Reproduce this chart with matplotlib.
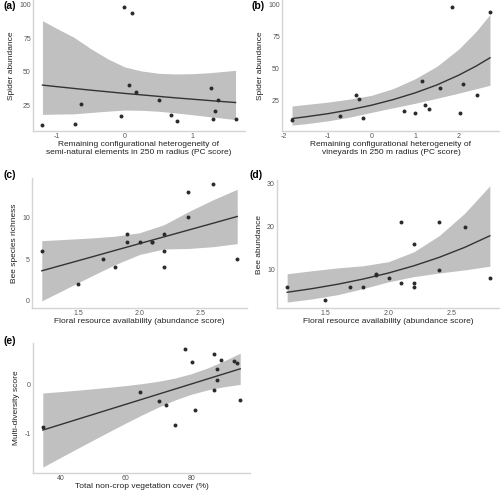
import matplotlib
matplotlib.use("Agg")
import matplotlib.pyplot as plt

plt.rcParams['font.family'] = ['Liberation Sans', 'DejaVu Sans']

# ---------------- data ----------------
# (a) spider abundance vs configurational heterogeneity of semi-natural elements
a_x = [-1.22, -0.745, -0.65, -0.06, -0.015, 0.10, 0.06, 0.17, 0.50, 0.69, 0.77, 1.27, 1.38, 1.34, 1.31, 1.64]
a_y = [10, 11, 26, 17, 98, 94, 40, 35, 29, 18, 13, 38, 29, 21, 15, 15]
a_fx = [-1.22, -1.0, -0.75, -0.5, -0.25, 0.0, 0.25, 0.5, 0.75, 1.0, 1.25, 1.64]
a_fit = [40.0, 38.8, 37.5, 36.2, 35.0, 33.8, 32.7, 31.6, 30.5, 29.5, 28.5, 27.0]
a_lo = [18.2, 18.4, 18.6, 19.6, 20.6, 21.4, 21.2, 20.5, 19.3, 17.9, 16.5, 14.3]
a_hi = [88.0, 82.0, 75.5, 67.0, 59.5, 53.5, 50.5, 48.8, 48.3, 48.5, 49.2, 51.0]

# (b) spider abundance vs configurational heterogeneity of vineyards
b_x = [-1.82, -0.72, -0.36, -0.28, -0.20, 0.75, 1.0, 1.16, 1.22, 1.32, 1.57, 1.84, 2.11, 2.03, 2.42, 2.72]
b_y = [10, 13, 29, 26, 11, 17, 15, 40, 21, 18, 35, 98, 38, 15, 29, 94]
b_fx = [-1.82, -1.5, -1.0, -0.5, 0.0, 0.5, 1.0, 1.5, 2.0, 2.4, 2.72]
b_fit = [10.8, 12.2, 14.6, 17.6, 21.2, 25.6, 30.8, 37.0, 44.6, 51.7, 58.2]
b_lo = [5.7, 6.8, 9.0, 11.9, 15.6, 19.2, 22.7, 26.6, 30.6, 34.0, 36.8]
b_hi = [20.6, 21.8, 23.6, 26.0, 28.9, 34.2, 41.8, 51.5, 64.9, 78.7, 92.0]

# (c) bee species richness vs floral resource availability
c_x = [1.2, 1.5, 1.7, 1.8, 1.9, 1.9, 2.0, 2.1, 2.1, 2.2, 2.2, 2.2, 2.4, 2.4, 2.6, 2.8]
c_y = [6, 2, 5, 4, 8, 7, 7, 7, 7.1, 8, 6, 4, 13, 10, 14, 5]
c_fx = [1.2, 1.4, 1.6, 1.8, 2.0, 2.2, 2.4, 2.6, 2.8]
c_fit = [3.6, 4.41, 5.22, 6.04, 6.85, 7.66, 8.47, 9.28, 10.1]
c_lo = [0.0, 1.46, 2.92, 4.34, 5.55, 6.21, 6.27, 6.48, 6.85]
c_hi = [7.2, 7.36, 7.52, 7.74, 8.15, 9.11, 10.67, 12.08, 13.35]

# (d) bee abundance vs floral resource availability
d_x = [1.2, 1.5, 1.7, 1.8, 1.9, 1.9, 2.0, 2.1, 2.1, 2.2, 2.2, 2.2, 2.4, 2.4, 2.6, 2.8]
d_y = [6, 3, 6, 6, 9, 8.85, 8, 21, 7, 16, 7, 6, 21, 10, 20, 8]
d_fx = [1.2, 1.4, 1.6, 1.8, 2.0, 2.2, 2.4, 2.6, 2.8]
d_fit = [4.8, 5.66, 6.67, 7.87, 9.27, 10.94, 12.9, 15.2, 17.9]
d_lo = [2.53, 3.27, 4.25, 5.66, 7.22, 8.43, 9.27, 9.99, 10.85]
d_hi = [9.1, 9.81, 10.46, 10.95, 11.9, 14.19, 17.94, 23.1, 29.5]

# (e) multi-diversity score vs total non-crop vegetation cover
e_x = [34.5, 64.3, 70.1, 72.2, 75.1, 78.1, 80.1, 81.1, 87.0, 87.0, 88.0, 88.0, 89.0, 93.0, 94.0, 95.0]
e_y = [-0.88, -0.16, -0.34, -0.43, -0.84, 0.73, 0.46, -0.52, 0.63, -0.12, 0.31, 0.09, 0.50, 0.49, 0.44, -0.32]
e_fx = [34.5, 40, 45, 50, 55, 60, 65, 70, 75, 80, 85, 90, 95]
e_fit = [-0.938, -0.824, -0.720, -0.616, -0.512, -0.408, -0.304, -0.200, -0.096, 0.008, 0.112, 0.216, 0.320]
e_lo = [-1.699, -1.500, -1.320, -1.142, -0.966, -0.792, -0.624, -0.465, -0.321, -0.203, -0.113, -0.049, 0.000]
e_hi = [-0.177, -0.148, -0.120, -0.090, -0.058, -0.024, 0.016, 0.065, 0.129, 0.219, 0.337, 0.481, 0.640]

panels = [
    dict(tag='(a)', x=a_x, y=a_y, fx=a_fx, fit=a_fit, lo=a_lo, hi=a_hi,
         xlim=(-1.36, 1.78), ylim=(5.8, 103.4), xt=[-1, 0, 1], xtl=['-1', '0', '1'],
         yt=[25, 50, 75, 100], ytl=['25', '50', '75', '100'],
         xlab='Remaining configurational heterogeneity of\nsemi-natural elements in 250 m radius (PC score)',
         ylab='Spider abundance', box=(33, 0, 245, 131), tagpos=(3, 1)),
    dict(tag='(b)', x=b_x, y=b_y, fx=b_fx, fit=b_fit, lo=b_lo, hi=b_hi,
         xlim=(-2.05, 2.95), ylim=(1.1, 103.3), xt=[-2, -1, 0, 1, 2], xtl=['-2', '-1', '0', '1', '2'],
         yt=[25, 50, 75, 100], ytl=['25', '50', '75', '100'],
         xlab='Remaining configurational heterogeneity of\nvineyards in 250 m radius (PC score)',
         ylab='Spider abundance', box=(282, 0, 500, 131), tagpos=(252, 1)),
    dict(tag='(c)', x=c_x, y=c_y, fx=c_fx, fit=c_fit, lo=c_lo, hi=c_hi,
         xlim=(1.12, 2.88), ylim=(-0.85, 14.7), xt=[1.5, 2.0, 2.5], xtl=['1.5', '2.0', '2.5'],
         yt=[0, 5, 10], ytl=['0', '5', '10'],
         xlab='Floral resource availability (abundance score)',
         ylab='Bee species richness', box=(32, 178, 247, 308), tagpos=(3, 170)),
    dict(tag='(d)', x=d_x, y=d_y, fx=d_fx, fit=d_fit, lo=d_lo, hi=d_hi,
         xlim=(1.12, 2.88), ylim=(1.15, 30.85), xt=[1.5, 2.0, 2.5], xtl=['1.5', '2.0', '2.5'],
         yt=[10, 20, 30], ytl=['10', '20', '30'],
         xlab='Floral resource availability (abundance score)',
         ylab='Bee abundance', box=(277, 180, 500, 308), tagpos=(250, 170)),
    dict(tag='(e)', x=e_x, y=e_y, fx=e_fx, fit=e_fit, lo=e_lo, hi=e_hi,
         xlim=(31.5, 98.0), ylim=(-1.82, 0.85), xt=[40, 60, 80], xtl=['40', '60', '80'],
         yt=[-1, 0], ytl=['-1', '0'],
         xlab='Total non-crop vegetation cover (%)',
         ylab='Multi-diversity score', box=(33, 343, 250, 473), tagpos=(3, 336)),
]

W, H = 500, 491
fig = plt.figure(figsize=(W / 100, H / 100), dpi=100)

for p in panels:
    x0, y0, x1, y1 = p['box']
    ax = fig.add_axes([x0 / W, 1 - y1 / H, (x1 - x0) / W, (y1 - y0) / H])
    ax.fill_between(p['fx'], p['lo'], p['hi'], color='#c0c0c0', lw=0, zorder=1)
    ax.plot(p['fx'], p['fit'], color='#333333', lw=1.0, zorder=2)
    ax.scatter(p['x'], p['y'], s=8, color='#2b2b2b', lw=0, zorder=3)
    ax.set_xlim(*p['xlim'])
    ax.set_ylim(*p['ylim'])
    ax.set_xticks(p['xt'])
    ax.set_xticklabels(p['xtl'])
    ax.set_yticks(p['yt'])
    ax.set_yticklabels(p['ytl'])
    for s in ['top', 'right']:
        ax.spines[s].set_visible(False)
    for s in ['left', 'bottom']:
        ax.spines[s].set_color('#d4d4d4')
        ax.spines[s].set_linewidth(1.0)
    ax.tick_params(length=0, labelsize=5.0, labelcolor='#555555', pad=1.5)
    ax.set_xlabel(p['xlab'], fontsize=6.0, color='#222222', labelpad=1, linespacing=1.1)
    ax.set_ylabel(p['ylab'], fontsize=6.0, color='#222222', labelpad=3)
    fig.text(p['tagpos'][0] / W, 1 - p['tagpos'][1] / H, p['tag'], fontsize=7.5,
             fontweight='bold', va='top', ha='left')

fig.savefig('out.png', dpi=100)
